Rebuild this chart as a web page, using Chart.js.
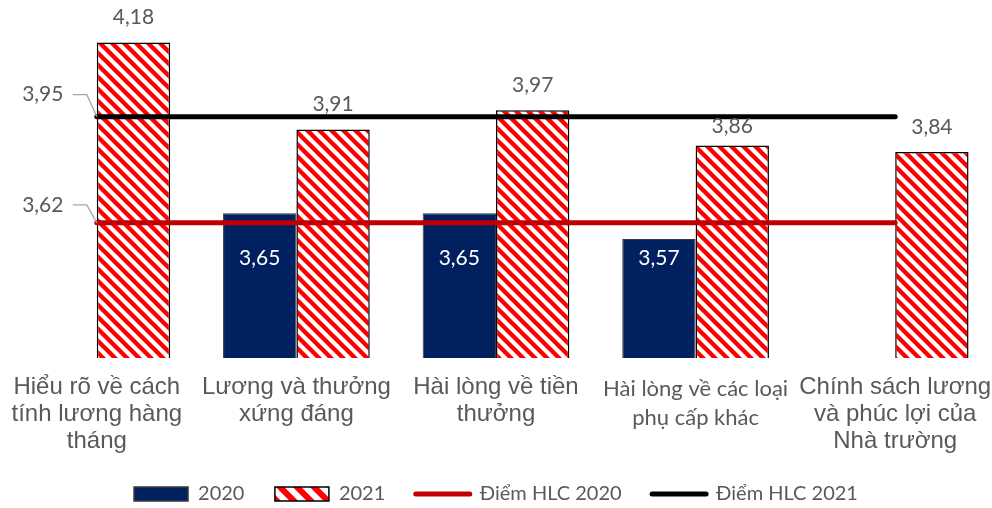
<!DOCTYPE html>
<html>
<head>
<meta charset="utf-8">
<script src="https://cdn.jsdelivr.net/npm/chart.js@4.4.1/dist/chart.umd.min.js"></script>
<style>
  html, body { margin: 0; padding: 0; background: #fff; overflow: hidden; }
  #khung { width: 998px; height: 508px; margin-left: -3px; }
</style>
</head>
<body>
<div id="khung"><canvas id="bieuDo"></canvas></div>
<script>
const nhom = [
  ['Hiểu rõ về cách', 'tính lương hàng', 'tháng'],
  ['Lương và thưởng', 'xứng đáng'],
  ['Hài lòng về tiền', 'thưởng'],
  ['Hài lòng về các loại', 'phụ cấp khác'],
  ['Chính sách lương', 'và phúc lợi của', 'Nhà trường']
];
const nam2020 = [null, 3.65, 3.65, 3.57, null];
const nam2021 = [4.18, 3.91, 3.97, 3.86, 3.84];
const hlc2020 = [3.62, 3.62, 3.62, 3.62, 3.62];
const hlc2021 = [3.95, 3.95, 3.95, 3.95, 3.95];

const XANH = '#002060';
const DO_DUONG = '#c00000';
const CHU = '#595959';

// soc cheo do tren nen trang
function taoSoc(buoc, day) {
  const c = document.createElement('canvas');
  c.width = buoc; c.height = buoc;
  const g = c.getContext('2d');
  g.fillStyle = '#fff';
  g.fillRect(0, 0, buoc, buoc);
  g.strokeStyle = '#ff0000';
  g.lineWidth = day;
  g.beginPath();
  for (const k of [-buoc, 0, buoc]) {
    g.moveTo(k - 3, -3);
    g.lineTo(k + buoc + 3, buoc + 3);
  }
  g.stroke();
  return g.createPattern(c, 'repeat');
}
const socCot = taoSoc(12, 4.4);
const socChuGiai = taoSoc(17, 6);

const dinhDang = v => v.toFixed(2).replace('.', ',');
const cach = ' '.repeat(4);

const nhanSo = {
  id: 'nhanSo',
  afterDatasetsDraw(chart) {
    const ctx = chart.ctx;
    const y = chart.scales.y;
    ctx.save();
    ctx.textAlign = 'center';
    ctx.textBaseline = 'middle';
    ctx.font = '21px Lato';

    // 2020: chu trang trong cot
    chart.getDatasetMeta(0).data.forEach((el, i) => {
      if (nam2020[i] == null) return;
      ctx.fillStyle = '#ffffff';
      ctx.fillText(dinhDang(nam2020[i]), el.x, y.getPixelForValue(3.51));
    });
    // 2021: tren dinh cot (nhan 3,86 ha thap de tranh duong HLC)
    chart.getDatasetMeta(1).data.forEach((el, i) => {
      ctx.fillStyle = CHU;
      ctx.fillText(dinhDang(nam2021[i]), el.x, el.y - (i === 3 ? 19 : 25));
    });

    // chu thich duong HLC ben trai
    [[2, hlc2020[0], 18], [3, hlc2021[0], 22]].forEach(([ds, v, cao]) => {
      const p = chart.getDatasetMeta(ds).data[0];
      ctx.strokeStyle = '#a6a6a6';
      ctx.lineWidth = 1.3;
      ctx.beginPath();
      ctx.moveTo(p.x, p.y);
      ctx.lineTo(p.x - 10, p.y - cao);
      ctx.lineTo(p.x - 24, p.y - cao);
      ctx.stroke();
      ctx.fillStyle = CHU;
      ctx.fillText(dinhDang(v), p.x - 54, p.y - cao);
    });
    ctx.restore();
  }
};

const ctx = document.getElementById('bieuDo').getContext('2d');
new Chart(ctx, {
  type: 'bar',
  data: {
    labels: nhom,
    datasets: [
      {
        label: '2020',
        data: nam2020,
        backgroundColor: XANH,
        borderColor: '#3a3a3a',
        borderWidth: 1,
        borderSkipped: false,
        order: 2
      },
      {
        label: '2021',
        data: nam2021,
        backgroundColor: socCot,
        borderColor: '#000',
        borderWidth: 1.5,
        borderSkipped: false,
        order: 2
      },
      {
        type: 'line',
        label: 'Điểm HLC 2020',
        data: hlc2020,
        borderColor: DO_DUONG,
        borderWidth: 5,
        pointRadius: 0,
        borderCapStyle: 'round',
        order: 1
      },
      {
        type: 'line',
        label: 'Điểm HLC 2021',
        data: hlc2021,
        borderColor: '#000',
        borderWidth: 5,
        pointRadius: 0,
        borderCapStyle: 'round',
        order: 1
      }
    ]
  },
  options: {
    responsive: true,
    maintainAspectRatio: false,
    animation: false,
    layout: { padding: { top: 4, left: 0, right: 0, bottom: -6 } },
    datasets: {
      bar: { categoryPercentage: 0.735, barPercentage: 1 }
    },
    scales: {
      x: {
        grid: { display: true, color: 'rgba(0,0,0,0)', drawOnChartArea: false, drawTicks: true, tickLength: 16 },
        border: { display: false },
        afterFit: s => { s.height = 116; },
        ticks: {
          padding: 0,
          maxRotation: 0,
          autoSkip: false,
          color: CHU,
          font: c => c.index === 3
            ? { family: 'Lato', size: 22, lineHeight: 1.32 }
            : { family: 'Liberation Sans, Arial', size: 24, lineHeight: 1.125 }
        }
      },
      y: {
        display: false,
        min: 3.2,
        max: 4.3
      }
    },
    plugins: {
      tooltip: { enabled: false },
      legend: {
        position: 'bottom',
        labels: {
          usePointStyle: true,
          pointStyleWidth: 54,
          boxHeight: 14,
          padding: 10,
          color: CHU,
          font: { family: 'Lato', size: 20 },
          generateLabels: () => [
            { text: '2020' + cach, pointStyle: 'rect', fillStyle: XANH, strokeStyle: '#3a3a3a', lineWidth: 1.5, fontColor: CHU, datasetIndex: 0 },
            { text: '2021' + cach, pointStyle: 'rect', fillStyle: socChuGiai, strokeStyle: '#000', lineWidth: 1.5, fontColor: CHU, datasetIndex: 1 },
            { text: 'Điểm HLC 2020' + cach, pointStyle: 'line', strokeStyle: DO_DUONG, lineWidth: 5, lineCap: 'round', fontColor: CHU, datasetIndex: 2 },
            { text: 'Điểm HLC 2021', pointStyle: 'line', strokeStyle: '#000', lineWidth: 5, lineCap: 'round', fontColor: CHU, datasetIndex: 3 }
          ]
        }
      }
    }
  },
  plugins: [nhanSo]
});
</script>
</body>
</html>
